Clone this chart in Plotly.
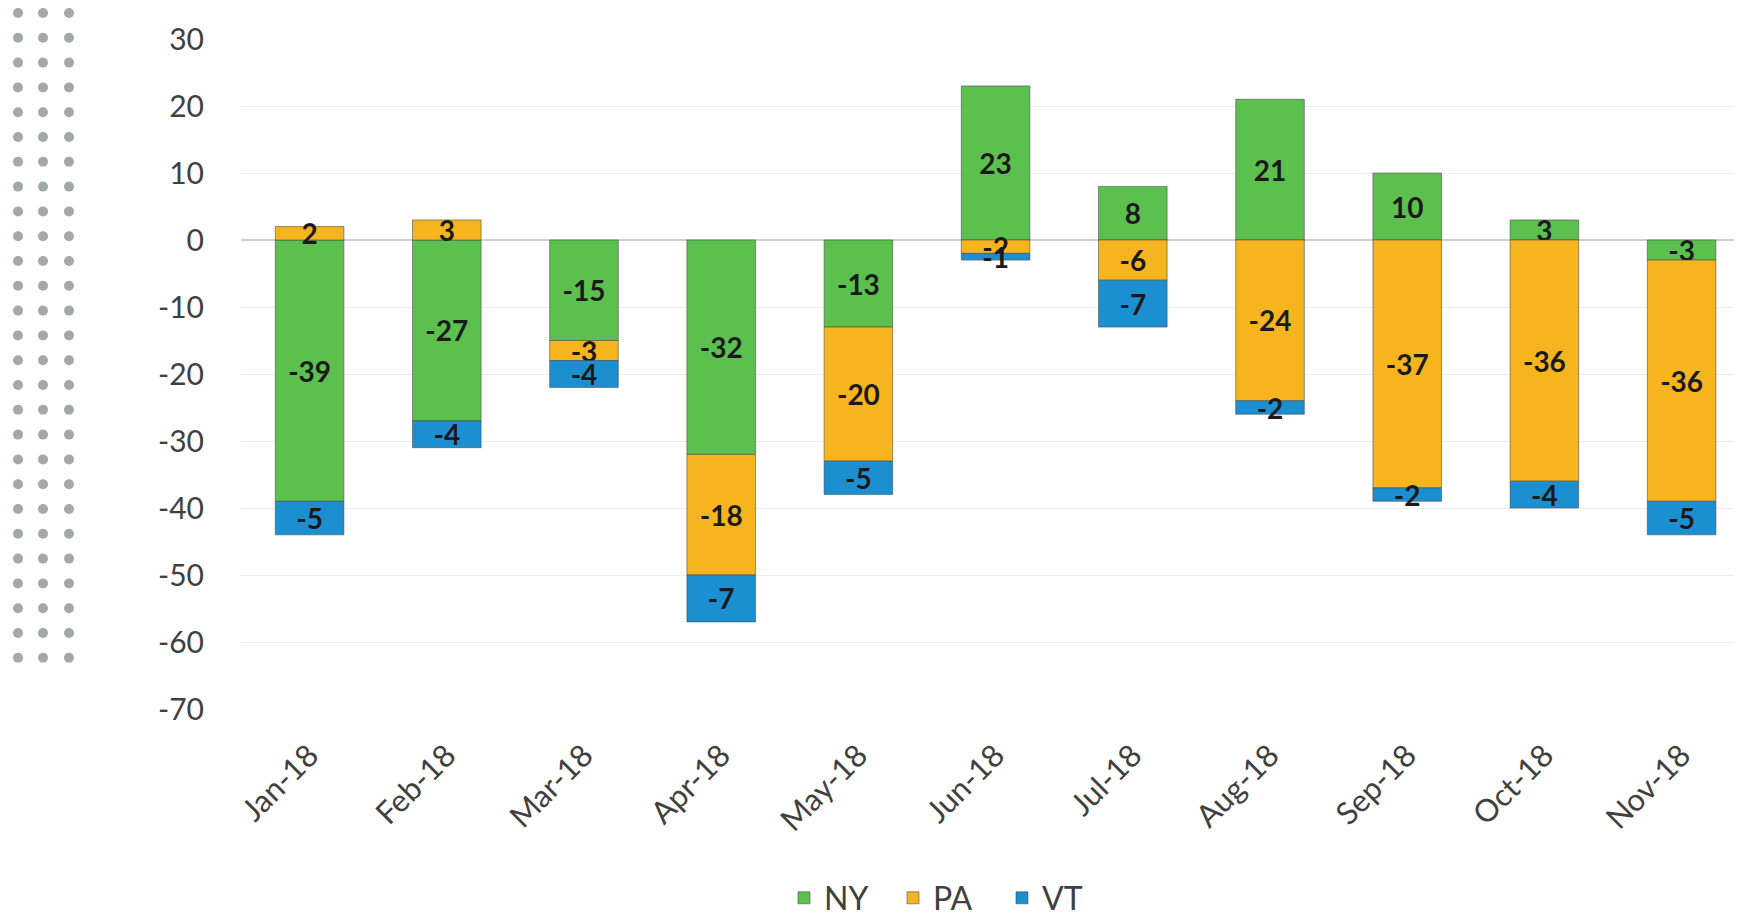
import plotly.graph_objects as go

months = ["Jan-18", "Feb-18", "Mar-18", "Apr-18", "May-18", "Jun-18",
          "Jul-18", "Aug-18", "Sep-18", "Oct-18", "Nov-18"]
ny = [-39, -27, -15, -32, -13, 23, 8, 21, 10, 3, -3]
pa = [2, 3, -3, -18, -20, -2, -6, -24, -37, -36, -36]
vt = [-5, -4, -4, -7, -5, -1, -7, -2, -2, -4, -5]
y_ticks = [30, 20, 10, 0, -10, -20, -30, -40, -50, -60, -70]
y_tick_text = ["30", "20", "10", "0", "-10", "-20", "-30", "-40", "-50", "-60", "-70"]

series = [("NY", ny, "#5cc04f"), ("PA", pa, "#f6b51f"), ("VT", vt, "#1c8fd1")]

FONT = "Lato, Carlito, 'Open Sans', sans-serif"

fig = go.Figure()
for name, vals, col in series:
    fig.add_trace(go.Bar(
        x=months, y=vals, name=name,
        marker=dict(color=col, line=dict(color="rgba(70,70,70,0.55)", width=1)),
        text=[str(v) for v in vals],
        textposition="inside", insidetextanchor="middle", textangle=0,
        constraintext="none",
        textfont=dict(family=FONT, size=28, color="#1a1a1a", weight="bold"),
    ))

# figure sits at an 8px offset inside the page body
W, H = 1734, 908
L, R, T, B = 233, 0, 31, 207
pw, ph = W - L - R, H - T - B
shapes = []
for row in range(27):
    for cx in (10, 35, 61):
        cy = 5 + row * 24.8
        xp = (cx - L) / pw
        yp = (H - B - cy) / ph
        shapes.append(dict(type="circle", xref="paper", yref="paper",
                           xsizemode="pixel", ysizemode="pixel",
                           xanchor=xp, yanchor=yp, x0=-5, x1=5, y0=-5, y1=5,
                           fillcolor="#a3aaa6", line=dict(width=0), layer="above"))

slot = 137.2
fig.update_layout(
    width=W, height=H,
    barmode="relative", bargap=0.5,
    plot_bgcolor="white", paper_bgcolor="white",
    margin=dict(l=L, r=R, t=T, b=B, autoexpand=False),
    font=dict(family=FONT, color="#404040"),
    uniformtext=dict(mode="show", minsize=28),
    shapes=shapes,
    showlegend=True,
    legend=dict(orientation="h", x=(776 - L) / pw, xanchor="left",
                y=(H - B - 890) / ph, yanchor="middle",
                entrywidth=64, entrywidthmode="pixels",
                font=dict(size=32, color="#404040"), traceorder="normal"),
    xaxis=dict(tickangle=-45, tickfont=dict(size=31, color="#404040"),
               range=[-0.5, -0.5 + pw / slot],
               showgrid=False, showline=False, ticks="", ticklabelstandoff=21),
    yaxis=dict(range=[-70, 30], tickvals=y_ticks, ticktext=y_tick_text,
               tickfont=dict(size=30, color="#404040"),
               showgrid=True, gridcolor="#ececec", gridwidth=1,
               zeroline=True, zerolinecolor="#cfcfcf", zerolinewidth=1.5,
               ticklabelstandoff=36, showline=False),
)

fig.write_html("out.html")
